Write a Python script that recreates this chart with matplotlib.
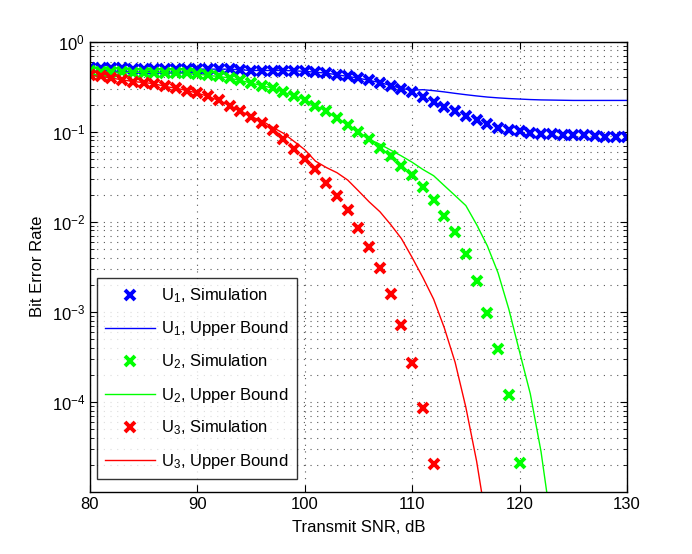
import matplotlib.pyplot as plt
import numpy as np
from matplotlib.ticker import LogLocator, NullFormatter

plt.rcParams['font.family'] = ['Liberation Sans', 'DejaVu Sans']
plt.rcParams['mathtext.fontset'] = 'custom'
plt.rcParams['mathtext.rm'] = 'Liberation Sans'
plt.rcParams['mathtext.it'] = 'Liberation Sans:italic'
plt.rcParams['mathtext.bf'] = 'Liberation Sans:bold'

# Simulated BER per user, 1 dB steps
snr_u1 = np.arange(80, 131)
ber_u1_sim = [0.515, 0.515, 0.507, 0.507, 0.498, 0.498, 0.498, 0.498, 0.498, 0.498,
              0.494, 0.494, 0.494, 0.494, 0.486, 0.477, 0.477, 0.477, 0.477, 0.473,
              0.467, 0.457, 0.446, 0.428, 0.41, 0.393, 0.37, 0.351, 0.325, 0.299,
              0.272, 0.242, 0.216, 0.19, 0.168, 0.148, 0.133, 0.121, 0.111, 0.105,
              0.102, 0.096, 0.094, 0.094, 0.092, 0.091, 0.091, 0.09, 0.088, 0.088,
              0.088]
ber_u1_bound = [0.515, 0.515, 0.507, 0.507, 0.498, 0.498, 0.498, 0.498, 0.498, 0.498,
                0.494, 0.494, 0.494, 0.494, 0.486, 0.477, 0.477, 0.477, 0.477, 0.473,
                0.467, 0.457, 0.446, 0.428, 0.41, 0.393, 0.37, 0.351, 0.325, 0.302,
                0.288, 0.292, 0.285, 0.276, 0.266, 0.257, 0.249, 0.242, 0.237, 0.233,
                0.230, 0.227, 0.225, 0.224, 0.223, 0.222, 0.222, 0.222, 0.222, 0.222,
                0.222]

snr_u2 = np.arange(80, 121)
ber_u2_sim = [0.473, 0.465, 0.457, 0.457, 0.453, 0.453, 0.453, 0.45, 0.446, 0.446,
              0.435, 0.42, 0.41, 0.393, 0.37, 0.346, 0.325, 0.304, 0.275, 0.25,
              0.226, 0.195, 0.168, 0.141, 0.119, 0.099, 0.083, 0.066, 0.053, 0.042,
              0.0327, 0.0243, 0.0176, 0.0117, 0.0076, 0.0044, 0.0022, 9.75e-4, 3.9e-4, 1.18e-4,
              2.12e-5]
snr_u2_bound = np.arange(80, 124)
ber_u2_bound = [0.473, 0.465, 0.457, 0.457, 0.453, 0.453, 0.453, 0.45, 0.446, 0.446,
                0.435, 0.42, 0.41, 0.393, 0.37, 0.346, 0.325, 0.304, 0.275, 0.25,
                0.226, 0.195, 0.168, 0.141, 0.119, 0.099, 0.0822, 0.0724, 0.0624, 0.0537,
                0.0457, 0.038, 0.0324, 0.0251, 0.0195, 0.0151, 0.0093, 0.0054, 0.0027, 0.00107,
                3.6e-4, 1.23e-4, 2.8e-5, 4e-6]

snr_u3 = np.arange(80, 113)
ber_u3_sim = [0.42, 0.41, 0.393, 0.376, 0.36, 0.351, 0.34, 0.317, 0.304, 0.286,
              0.268, 0.246, 0.222, 0.195, 0.17, 0.145, 0.124, 0.103, 0.082, 0.064,
              0.050, 0.038, 0.027, 0.0195, 0.0134, 0.0085, 0.0053, 0.0031, 0.00156, 7.1e-4,
              2.72e-4, 8.5e-5, 2.04e-5]
snr_u3_bound = np.arange(80, 118)
ber_u3_bound = [0.42, 0.41, 0.393, 0.376, 0.36, 0.351, 0.34, 0.317, 0.304, 0.286,
                0.268, 0.246, 0.222, 0.195, 0.17, 0.147, 0.132, 0.112, 0.096, 0.078,
                0.063, 0.047, 0.040, 0.035, 0.029, 0.022, 0.0166, 0.0129, 0.0093, 0.0065,
                0.0040, 0.0024, 0.00138, 6.6e-4, 2.75e-4, 8.7e-5, 2.2e-5, 4e-6]

fig = plt.figure(figsize=(6.92, 5.54), dpi=100)
ax = fig.add_axes([0.130, 0.112, 0.776, 0.813])

mk = dict(linestyle='none', marker='x', markersize=6.8, markeredgewidth=2.8)
ax.semilogy(snr_u1, ber_u1_sim, color=(0, 0, 1), label=r'U$_\mathregular{1}$, Simulation', **mk)
ax.semilogy(snr_u1, ber_u1_bound, color=(0, 0, 1), lw=1.0, label=r'U$_\mathregular{1}$, Upper Bound')
ax.semilogy(snr_u2, ber_u2_sim, color=(0, 1, 0), label=r'U$_\mathregular{2}$, Simulation', **mk)
ax.semilogy(snr_u2_bound, ber_u2_bound, color=(0, 1, 0), lw=1.0, label=r'U$_\mathregular{2}$, Upper Bound')
ax.semilogy(snr_u3, ber_u3_sim, color=(1, 0, 0), label=r'U$_\mathregular{3}$, Simulation', **mk)
ax.semilogy(snr_u3_bound, ber_u3_bound, color=(1, 0, 0), lw=1.0, label=r'U$_\mathregular{3}$, Upper Bound')

ax.set_xlim(80, 130)
ax.set_ylim(1e-5, 1)
ax.set_xticks([80, 90, 100, 110, 120, 130])
ax.set_yticks([1e-4, 1e-3, 1e-2, 1e-1, 1])
ax.yaxis.set_minor_locator(LogLocator(base=10, subs=np.arange(2, 10), numticks=20))
ax.yaxis.set_minor_formatter(NullFormatter())

# matlab style grid and ticks
ax.grid(True, which='major', axis='both', color='0.35', linestyle=(0, (1, 5)), lw=0.8)
ax.grid(True, which='minor', axis='y', color='0.35', linestyle=(0, (1, 5)), lw=0.8)
ax.tick_params(which='both', direction='in', top=True, right=True, labelsize=12)
ax.tick_params(which='major', length=5)
ax.tick_params(which='minor', length=3)
for s in ax.spines.values():
    s.set_linewidth(1.0)

ax.set_xlabel('Transmit SNR, dB', fontsize=12, labelpad=6)
ax.set_ylabel('Bit Error Rate', fontsize=12, labelpad=5)

leg = ax.legend(loc='lower left', bbox_to_anchor=(0.013, 0.029), borderaxespad=0,
                fontsize=12, frameon=True, fancybox=False, edgecolor='black',
                handlelength=3.0, labelspacing=0.85, handletextpad=0.35,
                borderpad=0.5)
leg.get_frame().set_linewidth(1.0)

fig.savefig('out.png', dpi=100)
